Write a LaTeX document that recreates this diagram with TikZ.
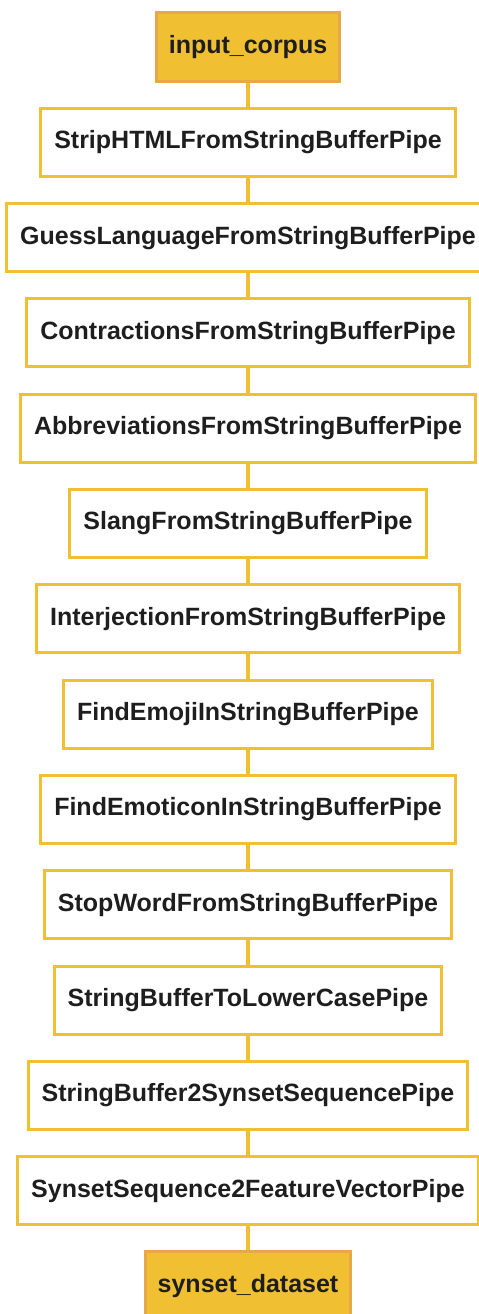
\documentclass[tikz,border=0pt]{standalone}
\usepackage{fontspec}
\setmainfont{Liberation Sans}
\usetikzlibrary{positioning}
\definecolor{pipegold}{RGB}{240,192,50}
\definecolor{termedge}{RGB}{230,168,72}
\definecolor{labelink}{RGB}{30,30,30}

\begin{document}
\begin{tikzpicture}[x=1pt, y=1pt, node distance=24.3pt,
    font=\fontsize{25}{29}\selectfont\bfseries,
    pipe/.style={draw=pipegold, line width=3pt, fill=white, minimum height=68pt, inner xsep=13.5pt, text=labelink},
    term/.style={pipe, draw=termedge, fill=pipegold, inner xsep=12.5pt},
    link/.style={pipegold, line width=4pt}]
  \useasboundingbox (0,0) rectangle (479,-1314);
  \node[term] (corpus) at (248,-47) {input\_corpus};
  \node[pipe, below=of corpus] (striphtml) {StripHTMLFromStringBufferPipe};
  \node[pipe, below=of striphtml] (guesslang) {GuessLanguageFromStringBufferPipe};
  \node[pipe, below=of guesslang] (contractions) {ContractionsFromStringBufferPipe};
  \node[pipe, below=of contractions] (abbrev) {AbbreviationsFromStringBufferPipe};
  \node[pipe, below=of abbrev] (slang) {SlangFromStringBufferPipe};
  \node[pipe, below=of slang] (interj) {InterjectionFromStringBufferPipe};
  \node[pipe, below=of interj] (emoji) {FindEmojiInStringBufferPipe};
  \node[pipe, below=of emoji] (emoticon) {FindEmoticonInStringBufferPipe};
  \node[pipe, below=of emoticon] (stopword) {StopWordFromStringBufferPipe};
  \node[pipe, below=of stopword] (lowercase) {StringBufferToLowerCasePipe};
  \node[pipe, below=of lowercase] (tosynset) {StringBuffer2SynsetSequencePipe};
  \node[pipe, below=of tosynset] (tofeature) {SynsetSequence2FeatureVectorPipe};
  \node[term, below=of tofeature] (dataset) {synset\_dataset};
  % pipeline links
  \draw[link] (corpus) -- (striphtml) -- (guesslang) -- (contractions) -- (abbrev)
    -- (slang) -- (interj) -- (emoji) -- (emoticon) -- (stopword)
    -- (lowercase) -- (tosynset) -- (tofeature) -- (dataset);
\end{tikzpicture}
\end{document}
